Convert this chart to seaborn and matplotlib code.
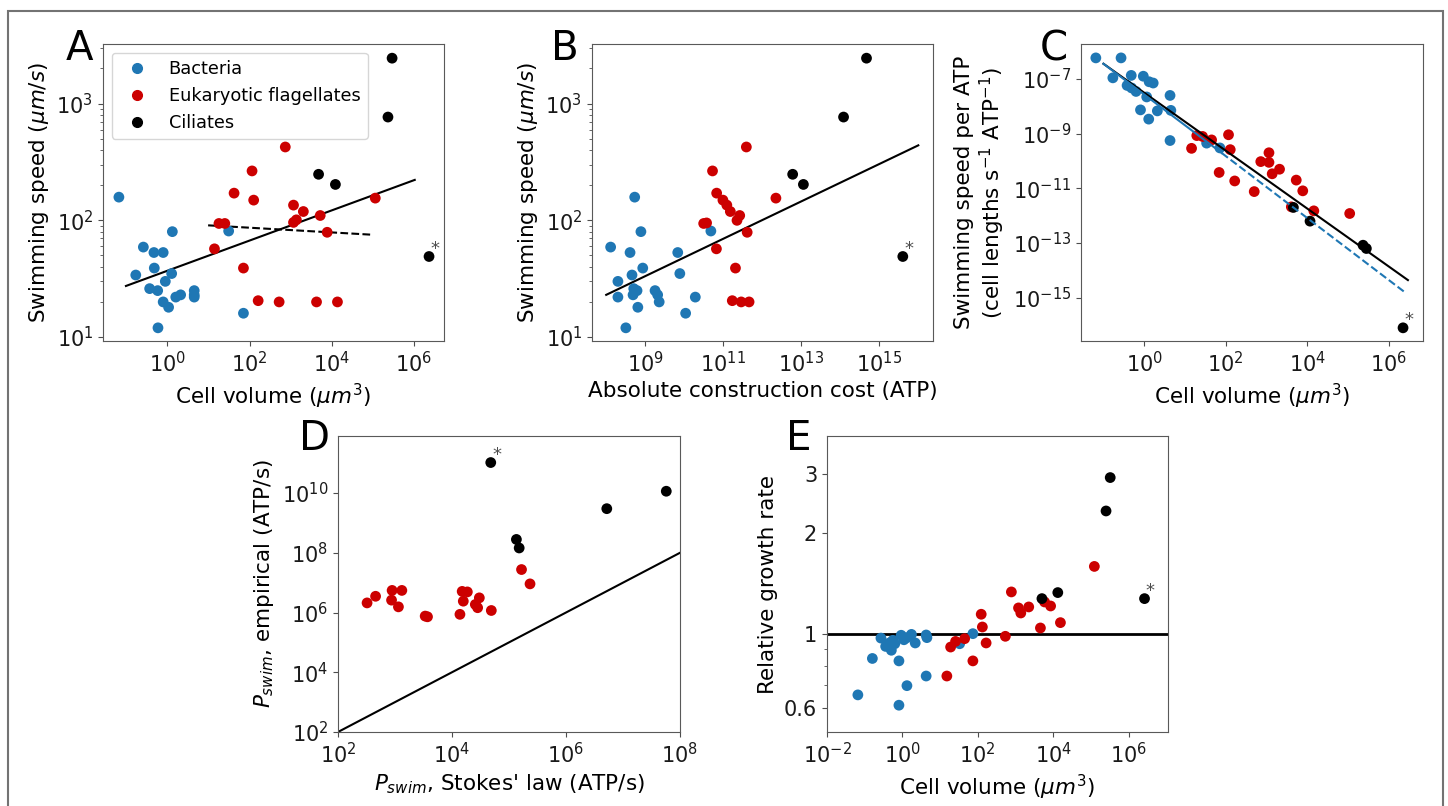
#importing libraries
import pandas as pd
import seaborn as sns
import matplotlib.pyplot as plt
from matplotlib.lines import Line2D
from matplotlib.patches import Rectangle
from matplotlib.ticker import NullLocator, NullFormatter

groups = ['Bacteria', 'Eukaryotic flagellates', 'Ciliates']
pal = {'Bacteria': '#1f77b4', 'Eukaryotic flagellates': '#cc0000', 'Ciliates': 'black'}

# ---- panel A: swimming speed vs cell volume
A_bac_x = [0.066, 1.32, 0.26, 0.47, 0.79, 0.48, 0.17, 1.27, 0.89, 0.37, 0.58,
           2.1, 1.6, 4.5, 4.5, 4.5, 0.79, 1.07, 0.59, 31, 71]
A_bac_y = [158, 80, 59, 53, 53, 39, 34, 35, 30, 26, 25, 23, 22, 25, 23, 22, 20, 18, 12, 81, 16]
A_euk_x = [14, 18, 25, 42, 71, 115, 126, 162, 525, 741, 1175, 1175, 1380, 2040,
           4270, 5250, 7760, 13800, 115000]
A_euk_y = [57, 94, 94, 171, 39, 265, 149, 20.5, 20, 425, 135, 96, 101, 119, 20, 110, 79, 20, 155]
A_cil_x = [295000, 234000, 4790, 12300, 2.34e6]
A_cil_y = [2450, 767, 248, 203, 49]
A_fit_x = [0.098, 1.05e6]
A_fit_y = [27.4, 222]
A_fit2_x = [9.8, 95500]
A_fit2_y = [90.6, 75.3]

# ---- panel B: swimming speed vs construction cost
B_bac_x = [5.4e8, 7.8e8, 1.3e8, 4.1e8, 6.9e9, 8.7e8, 4.6e8, 7.8e9, 2.0e8, 5.1e8, 6.2e8,
           4.9e8, 1.8e9, 2.1e9, 2.3e9, 2.0e8, 1.95e10, 6.5e8, 1.1e10, 3.2e8, 4.9e10]
B_bac_y = [158, 80, 59, 53, 53, 39, 34, 35, 30, 26, 25, 23, 25, 23, 20, 22, 22, 18, 16, 12, 81]
B_euk_x = [5.4e10, 6.9e10, 1.0e11, 1.26e11, 1.55e11, 2.7e11, 2.3e11, 3.2e10, 3.8e10,
           6.8e10, 4.2e11, 4.0e11, 2.1e11, 1.74e11, 2.95e11, 4.7e11, 2.3e12]
B_euk_y = [265, 171, 149, 135, 119, 110, 100, 94, 95, 57, 79, 425, 39, 20.5, 20, 20, 155]
B_cil_x = [4.9e14, 1.26e14, 6.2e12, 1.17e13, 4.2e15]
B_cil_y = [2450, 767, 248, 203, 49]
B_fit_x = [1.0e8, 1.05e16]
B_fit_y = [23, 439]

# ---- panel C: swimming speed per ATP vs cell volume
C_bac_x = [0.065, 0.27, 0.17, 0.48, 0.95, 1.32, 1.66, 0.38, 0.49, 0.63, 1.15, 4.3,
           0.81, 2.1, 4.5, 1.29, 4.3, 34, 72]
C_bac_y = [5.9e-7, 5.9e-7, 1.1e-7, 1.35e-7, 1.26e-7, 7.9e-8, 7.1e-8, 5.8e-8, 4.7e-8,
           3.5e-8, 2.2e-8, 2.5e-8, 7.4e-9, 6.8e-9, 7.1e-9, 3.4e-9, 5.6e-10, 4.5e-10, 3.0e-10]
C_euk_x = [14.5, 19.5, 27, 45, 117, 129, 69, 166, 500, 724, 1150, 1150, 1380, 2090,
           5370, 7760, 4070, 14500, 110000]
C_euk_y = [2.9e-10, 8.5e-10, 7.9e-10, 5.9e-10, 9.1e-10, 2.6e-10, 3.8e-11, 1.86e-11, 7.6e-12,
           9.5e-11, 2.0e-10, 8.9e-11, 3.4e-11, 5.0e-11, 2.0e-11, 8.1e-12, 2.1e-12, 1.5e-12, 1.2e-12]
C_cil_x = [4570, 11700, 234000, 282000, 2.24e6]
C_cil_y = [2.0e-12, 6.3e-13, 8.3e-14, 6.3e-14, 7.9e-17]
C_fit_x = [0.10, 2.95e6]
C_fit_y = [3.6e-7, 4.4e-15]
C_bfit_x = [0.10, 80]
C_bfit_y = [3.6e-7, 1.95e-10]
C_bext_x = [80, 2.6e6]
C_bext_y = [1.95e-10, 1.5e-15]

# ---- panel D: empirical vs Stokes swimming power
D_euk_x = [324, 457, 891, 1320, 871, 1150, 3390, 3720, 15100, 18600, 15800, 30200,
           25700, 28200, 13800, 49000, 166000, 234000]
D_euk_y = [2.1e6, 3.5e6, 5.5e6, 5.5e6, 2.6e6, 1.55e6, 7.6e5, 7.2e5, 5.1e6, 4.9e6, 2.4e6,
           3.1e6, 1.86e6, 1.45e6, 8.7e5, 1.17e6, 2.75e7, 9.1e6]
D_cil_x = [47900, 135000, 151000, 5.2e6, 5.75e7]
D_cil_y = [1.05e11, 2.8e8, 1.45e8, 3.0e9, 1.15e10]
D_line = [1e2, 1e8]

# ---- panel E: relative growth rate vs cell volume
E_bac_x = [0.066, 0.16, 0.27, 0.36, 0.45, 0.51, 0.56, 0.63, 0.81, 0.93, 1.1, 1.32,
           1.74, 2.19, 0.81, 1.32, 4.27, 4.47, 4.27, 33, 74]
E_bac_y = [0.656, 0.843, 0.97, 0.916, 0.938, 0.892, 0.955, 0.933, 0.829, 0.989, 0.959,
           0.973, 0.995, 0.938, 0.611, 0.699, 0.991, 0.973, 0.747, 0.933, 1.0]
E_euk_x = [15.1, 19, 25.7, 44.7, 74, 123, 132, 166, 537, 776, 1200, 1380, 2240, 4570,
           5890, 8510, 15500, 123000]
E_euk_y = [0.747, 0.912, 0.948, 0.966, 0.829, 1.143, 1.047, 0.938, 0.982, 1.333, 1.194,
           1.153, 1.202, 1.040, 1.244, 1.210, 1.079, 1.589]
E_cil_x = [5010, 13200, 251000, 324000, 2.63e6]
E_cil_y = [1.273, 1.327, 2.328, 2.93, 1.273]


def make_df(bx, by, ex, ey, cx, cy):
    return pd.DataFrame({'x': bx + ex + cx, 'y': by + ey + cy,
                         'group': [groups[0]] * len(bx) + [groups[1]] * len(ex) + [groups[2]] * len(cx)})


def scatter(ax, df):
    sns.scatterplot(data=df, x='x', y='y', hue='group', palette=pal, hue_order=groups,
                    s=60, edgecolor='none', linewidth=0, legend=False, ax=ax, zorder=3)
    ax.set_xscale('log')
    ax.set_yscale('log')


def star(ax, x, y):
    ax.annotate('*', (x, y), xytext=(1, -1), textcoords='offset points',
                fontsize=13, color='0.3', ha='left', va='bottom')


def letter(ax, s, x, y):
    ax.text(x, y, s, transform=ax.transAxes, fontsize=29, ha='right', va='baseline')


def style(ax, minor_y=True):
    ax.xaxis.set_minor_locator(NullLocator())
    if not minor_y:
        ax.yaxis.set_minor_locator(NullLocator())
    ax.yaxis.set_minor_formatter(NullFormatter())
    ax.tick_params(labelsize=15, colors='0.1')
    ax.tick_params(which='both', color='0.3')
    for sp in ax.spines.values():
        sp.set_color('0.35')
    ax.xaxis.label.set_size(15.5)
    ax.yaxis.label.set_size(15.5)


fig = plt.figure(figsize=(14.48, 8.06), dpi=100)
fig.patches.append(Rectangle((0.0055, -0.02), 0.991, 1.0064, transform=fig.transFigure,
                             fill=False, edgecolor='0.45', linewidth=1.5))

axA = fig.add_axes([0.0711, 0.5769, 0.2355, 0.3685])
axB = fig.add_axes([0.4088, 0.5769, 0.2355, 0.3685])
axC = fig.add_axes([0.7465, 0.5769, 0.2362, 0.3685])
axD = fig.add_axes([0.2334, 0.0918, 0.2362, 0.3672])
axE = fig.add_axes([0.5711, 0.0918, 0.2355, 0.3672])

#panel A
scatter(axA, make_df(A_bac_x, A_bac_y, A_euk_x, A_euk_y, A_cil_x, A_cil_y))
axA.plot(A_fit_x, A_fit_y, color='black', lw=1.5)
axA.plot(A_fit2_x, A_fit2_y, color='black', lw=1.5, ls='--')
star(axA, A_cil_x[-1], A_cil_y[-1])
axA.set_xlim(0.027, 5.4e6)
axA.set_ylim(9.25, 3240)
axA.set_xticks([1, 1e2, 1e4, 1e6])
axA.set_xlabel(r'Cell volume ($\mu m^3$)')
axA.set_ylabel(r'Swimming speed ($\mu m/s$)')
handles = [Line2D([], [], marker='o', ls='', color=pal[g], markersize=7) for g in groups]
axA.legend(handles, groups, loc='upper left', fontsize=12.8)
style(axA)
letter(axA, 'A', -0.03, 0.946)

#panel B
scatter(axB, make_df(B_bac_x, B_bac_y, B_euk_x, B_euk_y, B_cil_x, B_cil_y))
axB.plot(B_fit_x, B_fit_y, color='black', lw=1.5)
star(axB, B_cil_x[-1], B_cil_y[-1])
axB.set_xlim(4.3e7, 2.5e16)
axB.set_ylim(9.25, 3240)
axB.set_xticks([1e9, 1e11, 1e13, 1e15])
axB.set_xlabel('Absolute construction cost (ATP)')
axB.set_ylabel(r'Swimming speed ($\mu m/s$)')
style(axB)
letter(axB, 'B', -0.038, 0.946)

#panel C
scatter(axC, make_df(C_bac_x, C_bac_y, C_euk_x, C_euk_y, C_cil_x, C_cil_y))
axC.plot(C_fit_x, C_fit_y, color='black', lw=1.5, zorder=4)
axC.plot(C_bfit_x, C_bfit_y, color='#1f77b4', lw=1.5, zorder=4)
axC.plot(C_bext_x, C_bext_y, color='#1f77b4', lw=1.5, ls='--', zorder=4)
star(axC, C_cil_x[-1], C_cil_y[-1])
axC.set_xlim(0.028, 6.9e6)
axC.set_ylim(2.6e-17, 1.9e-6)
axC.set_xticks([1, 1e2, 1e4, 1e6])
axC.set_yticks([1e-15, 1e-13, 1e-11, 1e-9, 1e-7])
axC.set_xlabel(r'Cell volume ($\mu m^3$)')
axC.set_ylabel('Swimming speed per ATP\n(cell lengths s$^{-1}$ ATP$^{-1}$)')
style(axC, minor_y=False)
letter(axC, 'C', -0.038, 0.946)

#panel D
scatter(axD, make_df([], [], D_euk_x, D_euk_y, D_cil_x, D_cil_y))
axD.plot(D_line, D_line, color='black', lw=1.5)
star(axD, D_cil_x[0], D_cil_y[0])
axD.set_xlim(1e2, 1e8)
axD.set_ylim(1e2, 8.1e11)
axD.set_xticks([1e2, 1e4, 1e6, 1e8])
axD.set_yticks([1e2, 1e4, 1e6, 1e8, 1e10])
axD.set_xlabel(r'$P_{swim}$, Stokes' + "' law (ATP/s)")
axD.set_ylabel(r'$P_{swim}$, empirical (ATP/s)')
style(axD, minor_y=False)
letter(axD, 'D', -0.023, 0.953)

#panel E
scatter(axE, make_df(E_bac_x, E_bac_y, E_euk_x, E_euk_y, E_cil_x, E_cil_y))
axE.axhline(1, color='black', lw=2, zorder=2)
star(axE, E_cil_x[-1], E_cil_y[-1])
axE.set_xlim(1e-2, 1.1e7)
axE.set_ylim(0.508, 3.9)
axE.set_xticks([1e-2, 1, 1e2, 1e4, 1e6])
axE.set_yticks([0.6, 1, 2, 3])
axE.set_yticklabels(['0.6', '1', '2', '3'])
axE.set_xlabel(r'Cell volume ($\mu m^3$)')
axE.set_ylabel('Relative growth rate')
style(axE)
letter(axE, 'E', -0.044, 0.953)

plt.savefig('out.png', dpi=100)
